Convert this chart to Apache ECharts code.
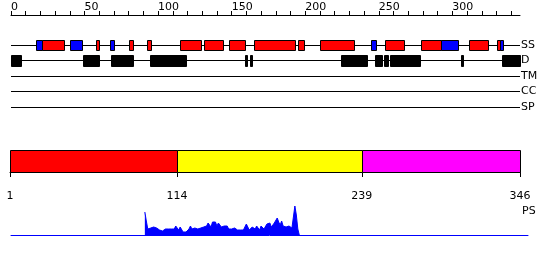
<!DOCTYPE html>
<html><head><meta charset="utf-8">
<script src="https://cdn.jsdelivr.net/npm/echarts@6/dist/echarts.min.js"></script>
<style>html,body{margin:0;padding:0;background:#fff}#c{width:550px;height:260px}</style>
</head><body><div id="c"></div>
<script>
// ---- data ----
const seqLength = 346;
const tracks = ['SS', 'D', 'TM', 'CC', 'SP'];
const helix = [[21,36],[58,60],[80,83],[92.5,95.5],[115,129],[131,144],[148,159],[165,193],[195,199],[210,233],[254,267],[279,292],[311,324],[330.5,332.5]];
const strand = [[17,21],[40,48.5],[67.5,70],[245,248],[292,304],[332.5,334.5]];
const disorder = [[0,7],[49,60],[68,83],[94.5,119],[159.3,160.5],[162.3,163.5],[224,242],[247.7,252.2],[253.5,256.5],[257.7,278],[306,307],[334,346]];
const tm = [];
const cc = [];
const sp = [];
const topTicks = [0,10,20,30,40,50,60,70,80,90,100,110,120,130,140,150,160,170,180,190,200,210,220,230,240,250,260,270,280,290,300,310,320,330,340];
const topLabels = [0,50,100,150,200,250,300];
const domainStarts = [1,114,239];
const domainEnds = [114,239,346];
const bottomTicks = [1,114,239,346];
const psStart = 91;
const psValues = [23,14,6,5,7,6,8,9,7,6,
  5,6,4,5,6,6,6,5,6,5,
  6,9,7,5,8,6,3,2,3,4,
  6,9,6,4,7,9,6,8,7,6,
  8,10,9,12,10,8,13,14,13,9,
  12,11,8,10,9,7,9,6,7,6,
  6,7,6,5,6,5,4,5,7,11,
  9,5,6,8,7,6,9,7,5,9,
  11,6,8,11,9,12,8,10,12,14,
  17,13,10,14,9,11,8,7,9,8,
  7,8,29,20,6,0];

// ---- styles ----
const FONT = 'DejaVu Sans';
const featColors = ['#ff0000', '#0000ff', '#000000'];
const domainColors = ['#ff0000', '#ffff00', '#ff00ff'];

const featData = [];
helix.forEach(d => featData.push([d[0], d[1], 0, 0]));
strand.forEach(d => featData.push([d[0], d[1], 0, 1]));
disorder.forEach(d => featData.push([d[0], d[1], 1, 2]));
tm.forEach(d => featData.push([d[0], d[1], 2, 2]));
cc.forEach(d => featData.push([d[0], d[1], 3, 2]));
sp.forEach(d => featData.push([d[0], d[1], 4, 2]));

const domainData = domainStarts.map((s, i) => [s, domainEnds[i], i]);
const psData = psValues.map((v, i) => [psStart + i, v]);

function snapRect(x1, y1, x2, y2) {
  const ax = Math.round(x1), bx = Math.round(x2);
  const ay = Math.round(y1), by = Math.round(y2);
  return {x: ax + 0.5, y: ay + 0.5, width: Math.max(1, bx - ax), height: by - ay};
}

const chart = echarts.init(document.getElementById('c'), null, {renderer: 'canvas'});
chart.setOption({
  animation: false,
  backgroundColor: '#fff',
  grid: [
    {left: 11, right: 30, top: 45, bottom: 153},
    {left: 10, right: 30, top: 150, height: 22},
    {left: 11, right: 22, top: 206, bottom: 25}
  ],
  xAxis: [
    {gridIndex: 0, type: 'value', position: 'top', offset: 30, min: 0, max: seqLength,
     axisLine: {show: true, lineStyle: {color: '#000', width: 1}},
     axisTick: {show: true, length: 4, lineStyle: {color: '#000'}, customValues: topTicks},
     axisLabel: {show: true, customValues: topLabels, align: 'left', margin: 2, fontSize: 11, fontFamily: FONT, color: '#000'},
     splitLine: {show: false}},
    {gridIndex: 1, type: 'value', position: 'bottom', offset: 11, min: 1, max: seqLength,
     axisLine: {show: true, lineStyle: {color: '#000', width: 1}},
     axisTick: {show: true, length: 5, lineStyle: {color: '#000'}, customValues: bottomTicks},
     axisLabel: {show: true, customValues: bottomTicks, margin: 8, fontSize: 11, fontFamily: FONT, color: '#000'},
     splitLine: {show: false}},
    {gridIndex: 2, type: 'value', min: 0, max: 351.5,
     axisLine: {show: true, onZero: false, lineStyle: {color: '#0000ff', width: 1}},
     axisTick: {show: false}, axisLabel: {show: false}, splitLine: {show: false}}
  ],
  yAxis: [
    {gridIndex: 0, type: 'category', data: tracks, inverse: true, boundaryGap: false, position: 'right',
     axisLine: {show: false}, axisTick: {show: false},
     axisLabel: {show: true, margin: 1, fontSize: 11, fontFamily: FONT, color: '#000', align: 'left'},
     splitLine: {show: true, lineStyle: {color: '#000', width: 1}}},
    {gridIndex: 1, type: 'value', min: 0, max: 1, show: false},
    {gridIndex: 2, type: 'value', min: 0, max: 29, show: false}
  ],
  graphic: [
    {type: 'text', left: 522, top: 206, style: {text: 'PS', font: '11px "DejaVu Sans"', fill: '#000'}}
  ],
  series: [
    {type: 'custom', xAxisIndex: 0, yAxisIndex: 0, data: featData, encode: {x: [0, 1], y: 2},
     renderItem: function (params, api) {
       const t = api.value(2), k = api.value(3);
       const p1 = api.coord([api.value(0), t]);
       const p2 = api.coord([api.value(1), t]);
       const h = t === 0 ? 10 : 11;
       return {type: 'rect', shape: snapRect(p1[0], p1[1] - h / 2, p2[0], p1[1] + h / 2),
               style: {fill: featColors[k], stroke: '#000', lineWidth: 1}};
     }},
    {type: 'custom', xAxisIndex: 1, yAxisIndex: 1, data: domainData, encode: {x: [0, 1]},
     renderItem: function (params, api) {
       const p1 = api.coord([api.value(0), 1]);
       const p2 = api.coord([api.value(1), 0]);
       return {type: 'rect', shape: snapRect(p1[0], p1[1], p2[0], p2[1]),
               style: {fill: domainColors[api.value(2)], stroke: '#000', lineWidth: 1}};
     }},
    {type: 'line', xAxisIndex: 2, yAxisIndex: 2, data: psData, symbol: 'none', smooth: false,
     lineStyle: {color: '#0000ff', width: 1}, areaStyle: {color: '#0000ff', opacity: 1}}
  ]
});
</script>
</body></html>
